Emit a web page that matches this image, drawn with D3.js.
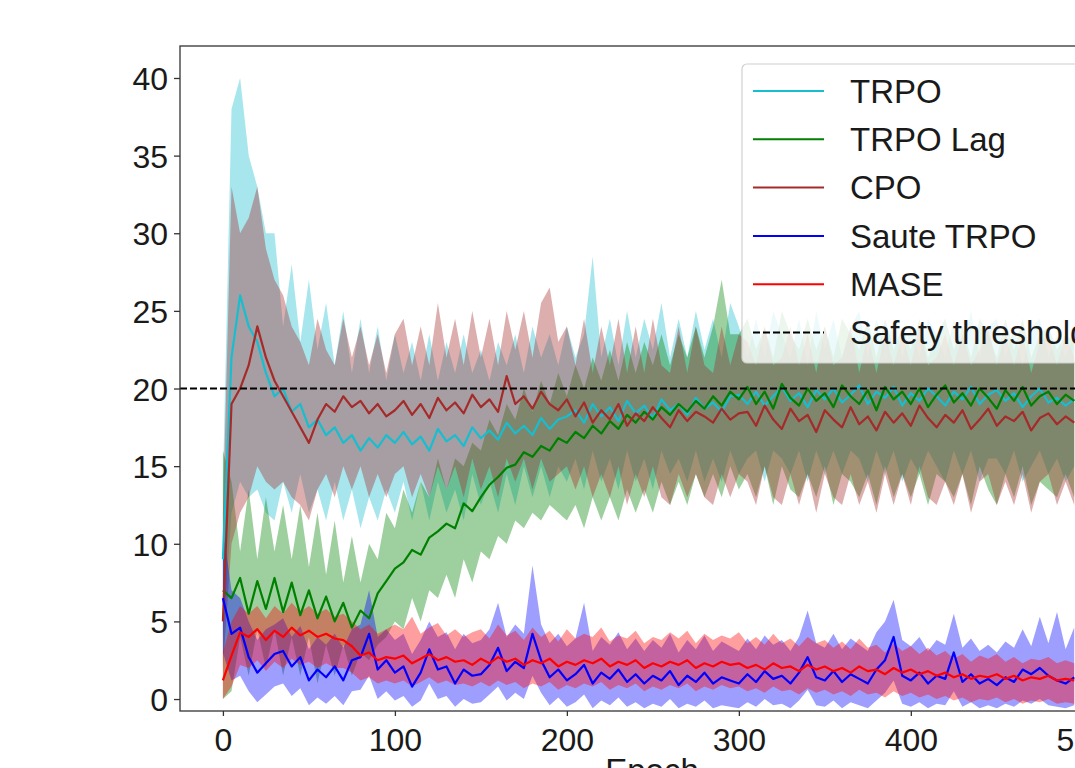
<!DOCTYPE html>
<html>
<head>
<meta charset="utf-8">
<script src="https://cdn.jsdelivr.net/npm/d3@7"></script>
<style>
  body { margin: 0; background: #fff; }
  text { font-family: "Liberation Sans", Arial, sans-serif; fill: #1a1a1a; }
</style>
</head>
<body>
<script>
"use strict"

// epochs sampled every 5
var epochs = d3.range(0, 500, 5);

var trpoMean = [9, 22, 26, 24, 23, 21, 19.5, 20, 18.5, 19,
  17.5, 18, 17, 17.5, 16.5, 17, 16, 16.8, 16.2, 17,
  16.5, 17.2, 16.4, 16.9, 16.0, 17.4, 16.6, 17.0, 16.3, 17.5,
  16.8, 17.3, 16.7, 17.8, 17.1, 17.6, 17.0, 18.1, 17.4, 18.0,
  18.2, 18.6, 17.8, 19.0, 18.2, 18.8, 17.9, 19.2, 18.4, 18.9,
  18.1, 19.3, 18.6, 19.0, 18.3, 19.4, 18.7, 19.1, 18.5, 19.5,
  19.6, 19.0, 19.8, 18.9, 19.5, 20.1, 19.2, 19.7, 18.8, 19.9,
  19.3, 20.0, 19.1, 19.6, 20.2, 19.0, 19.8, 19.4, 20.1, 18.9,
  19.7, 19.2, 20.0, 19.5, 18.9, 19.8, 19.3, 20.1, 19.0, 19.6,
  19.9, 19.2, 19.7, 18.8, 19.5, 20.0, 19.1, 19.4, 18.9, 19.3];
var trpoHi = [14, 38, 40, 35, 33, 30, 30, 24, 28, 23,
  27, 22.5, 25.5, 21.5, 25, 21, 24.5, 21, 24, 20.5,
  23.5, 21, 23, 20.5, 23.5, 20.5, 23, 21, 23.5, 21,
  22.5, 20.5, 23, 21.5, 23.5, 21, 24, 22, 23.5, 21.5,
  24, 22, 23.5, 28.5, 22, 24.5, 21.5, 25, 22, 24.5,
  22.5, 25.5, 22, 24.5, 22, 25, 22.5, 24.5, 22, 25.5,
  24, 22, 24.5, 22, 25, 23.5, 22, 24.5, 21.5, 25,
  22.5, 24.5, 22, 24, 25, 22, 24.5, 22.5, 24.5, 22,
  24, 22, 24.5, 23.5, 22, 24.5, 22.5, 25, 22, 24,
  24.5, 22, 24, 21.5, 24, 24.5, 22, 23.5, 22, 23.5];
var trpoLo = [4, 12, 14, 13, 13.5, 12, 11.5, 14, 12, 14.5,
  12, 13.5, 11.5, 14, 11.5, 13.5, 11, 13, 11.5, 13.5,
  12, 14, 11.5, 14, 11.5, 14, 12, 13.5, 11.5, 14.5,
  12.5, 14, 12, 14.5, 12.5, 15, 13, 15, 13, 15,
  14, 15.5, 13.5, 16, 14, 15.5, 13.5, 16, 14, 15.5,
  13.5, 16, 14.5, 15.5, 14, 16, 14, 15.5, 14, 16,
  14.5, 15.5, 16, 14, 16, 15.5, 14.5, 16, 14, 16,
  14.5, 16, 14.5, 16, 15.5, 14, 16, 14.5, 16, 14,
  15.5, 14.5, 16, 15, 14, 16, 14.5, 16, 14, 15.5,
  15.5, 14.5, 16, 14, 15, 16, 14.5, 15.5, 14, 15];

var lagMean = [7, 6.5, 7.8, 5.5, 7.6, 5.8, 7.8, 5.6, 7.5, 5.4,
  7.0, 5.2, 6.6, 5.0, 6.2, 4.6, 5.7, 5.2, 6.8, 7.6,
  8.4, 8.8, 9.6, 9.3, 10.4, 10.8, 11.3, 11.0, 12.6, 12.1,
  13.0, 13.8, 14.3, 14.9, 15.1, 15.9, 15.6, 16.3, 16.0, 16.8,
  16.5, 17.2, 16.8, 17.6, 17.1, 17.9, 17.4, 18.3, 17.8, 18.5,
  18.0, 18.8, 18.3, 19.0, 18.5, 19.2, 18.7, 19.5, 18.9, 19.8,
  19.3, 20.1, 19.0, 19.8, 18.7, 20.3, 19.4, 18.9, 20.0, 19.2,
  19.7, 18.8, 20.2, 19.5, 19.0, 19.9, 18.6, 20.1, 19.3, 19.8,
  19.0, 20.0, 18.8, 19.6, 20.2, 19.1, 19.7, 18.9, 20.0, 19.4,
  18.7, 19.9, 19.2, 20.1, 18.9, 19.5, 19.8, 19.0, 19.6, 19.2];
var lagHi = [16, 14, 9.5, 13.5, 9, 13, 9.5, 12.5, 9, 12.5,
  8.5, 12, 8, 11.5, 7.5, 10.5, 7.5, 10, 9, 12,
  11, 13.5, 12, 14, 13, 15.5, 13.5, 15.5, 15, 16.5,
  16, 18, 17, 19, 18, 20, 18.5, 20.5, 19, 21,
  19.5, 21.5, 20, 22, 20.5, 22.5, 20.5, 23, 21, 23,
  21.5, 23.5, 21.5, 23.5, 22, 24, 22, 24, 27, 23.5,
  23.5, 24.5, 22.5, 24, 22, 25, 23.5, 22.5, 24.5, 22.5,
  24, 22, 24.5, 23.5, 22.5, 24.5, 22, 24.5, 22.5, 24,
  22.5, 24.5, 22, 23.5, 24.5, 22.5, 24, 22, 24.5, 23.5,
  22, 24.5, 22.5, 24.5, 22, 23.5, 24, 22.5, 23.5, 23];
var lagLo = [0, 0.5, 4, 1.5, 4.5, 2, 4.5, 1.5, 4, 1.5,
  4, 1, 3.5, 1.5, 3.5, 1.5, 3, 2.5, 3.5, 4,
  5, 4.5, 6.5, 5, 7, 6.5, 8, 6.5, 9, 7.5,
  9.5, 9, 10.5, 10, 11.5, 11, 12, 11.5, 12.5, 12,
  11.5, 12.5, 11, 13, 11.5, 13, 11.5, 13.5, 12, 13.5,
  12, 14, 12.5, 14, 12.5, 14.5, 13, 14.5, 13, 15,
  13.5, 14.5, 13, 15, 12.5, 15, 13.5, 13, 14.5, 13,
  15, 12.5, 14.5, 14, 13, 14.5, 12.5, 15, 13, 14.5,
  13, 14.5, 12.5, 14.5, 14, 13, 14.5, 12.5, 15, 13.5,
  12.5, 14.5, 13, 15, 12.5, 14, 13.5, 13, 14.5, 13];

var cpoMean = [5, 19, 20, 21.5, 24, 22, 20.5, 19.5, 18.5, 17.5,
  16.5, 18, 19, 18.5, 19.5, 18.8, 19.2, 18.4, 19.0, 18.2,
  18.6, 19.2, 18.3, 19.0, 18.1, 19.4, 18.6, 19.1, 18.4, 19.6,
  18.8, 19.3, 18.5, 20.8, 19.0, 19.5, 18.7, 19.8, 19.0, 18.6,
  19.3, 18.2, 19.1, 17.8, 18.6, 18.0, 19.0, 17.6, 18.4, 17.9,
  18.8, 18.1, 17.5, 18.6, 17.9, 18.5, 18.2, 17.8, 18.7, 18.0,
  18.4, 18.5, 17.6, 18.9, 18.0, 17.4, 18.7, 17.9, 18.3, 17.2,
  18.6, 18.0, 17.5, 18.8, 17.7, 18.2, 17.3, 18.5, 17.8, 18.4,
  17.6, 18.9, 18.1, 17.5, 18.3, 17.8, 18.6, 17.4, 18.0, 18.7,
  17.6, 18.2, 17.9, 18.5, 17.3, 18.1, 18.4, 17.7, 18.2, 17.8];
var cpoHi = [12, 33, 30, 31, 33, 29, 27, 26, 24, 23,
  21.5, 24.5, 22.5, 21.5, 24.5, 22, 24, 21.5, 23.5, 21,
  23.5, 24.5, 21.5, 24, 21.5, 25.5, 22, 24.5, 21.5, 25,
  22, 24.5, 21.5, 25, 22.5, 25, 22, 25.5, 26.5, 23,
  24, 21.5, 24.5, 21, 24, 21.5, 24.5, 21, 24, 21,
  24.5, 21.5, 21, 24, 21, 24, 21.5, 21, 24, 21.5,
  23.5, 23, 21.5, 24, 21.5, 22, 24, 21.5, 23.5, 21,
  24, 21.5, 22, 24, 21, 23.5, 21, 23.5, 21.5, 23.5,
  21.5, 24, 21.5, 22, 23.5, 21.5, 23.5, 21.5, 22.5, 24,
  21.5, 23.5, 21.5, 23.5, 21, 23, 23.5, 21.5, 23.5, 22];
var cpoLo = [2, 10, 12, 13, 15, 14, 13.5, 14, 13, 12.5,
  11.5, 13.5, 14.5, 13, 15, 13.5, 15, 13, 14.5, 13,
  14.5, 15, 13, 14.5, 13, 15, 13.5, 15, 13, 15.5,
  13.5, 15, 13, 15.5, 14, 15.5, 13.5, 15.5, 14, 14.5,
  15, 13.5, 15, 13, 14.5, 13, 15, 12.5, 14.5, 13,
  15, 13, 12.5, 14.5, 13, 14.5, 13, 12.5, 14.5, 13,
  14.5, 14, 12.5, 15, 13, 12.5, 14.5, 12.5, 14.5, 12,
  14.5, 13, 12.5, 14.5, 12.5, 14, 12, 14.5, 12.5, 14.5,
  12.5, 15, 13, 12.5, 14, 12.5, 14.5, 12, 14, 14.5,
  12.5, 14, 12.5, 14.5, 12, 14, 14.5, 12.5, 14, 12.5];

var sauteMean = [6.5, 4.2, 4.6, 2.7, 1.7, 2.3, 2.9, 3.1, 2.1, 2.7,
  1.2, 1.9, 1.4, 2.1, 1.2, 2.5, 2.7, 4.2, 1.9, 2.5,
  1.7, 2.1, 0.8, 1.7, 3.2, 1.9, 2.1, 1.0, 1.9, 1.5,
  1.6, 2.2, 3.3, 1.8, 2.4, 2.0, 4.2, 2.5, 1.4, 1.9,
  1.2, 1.6, 2.2, 1.0, 1.7, 1.3, 1.9, 1.1, 1.6, 1.0,
  1.5, 1.2, 1.8, 0.9, 1.5, 1.1, 1.7, 1.0, 1.4, 1.2,
  1.0, 1.6, 1.1, 1.8, 1.3, 1.5, 1.0, 1.7, 2.7, 1.4,
  1.2, 1.8, 1.1, 1.6, 1.3, 1.0, 1.9, 2.5, 4.0, 1.5,
  1.2, 1.7, 1.0, 1.5, 1.3, 3.0, 1.1, 1.6, 1.0, 1.3,
  0.9, 1.4, 1.1, 1.9, 1.6, 2.0, 1.5, 1.2, 1.0, 1.4];
var sauteHi = [11, 7, 6.5, 5, 3.8, 4.5, 4.8, 5.2, 4, 4.7,
  3.2, 4, 3.5, 4.2, 3.3, 4.5, 4.8, 7, 4, 4.5,
  3.8, 4.2, 2.9, 3.8, 5, 4, 4.3, 3.2, 4.2, 3.6,
  3.8, 4.5, 6.2, 4.0, 4.8, 4.2, 8.6, 4.8, 3.6, 4.2,
  3.4, 3.9, 6.2, 3.1, 4.0, 3.5, 4.3, 3.2, 3.9, 3.1,
  3.8, 3.3, 4.2, 3.0, 3.8, 3.2, 4.1, 3.1, 3.7, 3.4,
  3.1, 3.9, 3.2, 4.1, 3.5, 3.8, 3.1, 4.0, 5.7, 3.6,
  3.3, 4.2, 3.2, 3.9, 3.5, 3.1, 4.3, 5.0, 6.4, 3.8,
  3.4, 4.0, 3.1, 3.8, 3.5, 5.5, 3.3, 3.9, 3.1, 3.5,
  3.0, 3.7, 3.3, 4.5, 3.4, 5.3, 3.6, 5.6, 3.2, 4.6];
var sauteLo = [3, 1.2, 1.5, 0.5, -0.2, 0.3, 0.8, 1.0, 0.2, 0.7,
  -0.4, 0.1, -0.3, 0.2, -0.4, 0.5, 0.6, 1.5, 0, 0.5,
  -0.1, 0.2, -0.5, -0.1, 1.0, 0, 0.2, -0.5, 0, -0.3,
  -0.2, 0.3, 0.8, -0.1, 0.4, 0.0, 1.5, 0.4, -0.4, 0.1,
  -0.5, -0.2, 0.3, -0.6, -0.1, -0.4, 0.1, -0.5, -0.2, -0.6,
  -0.3, -0.5, 0.0, -0.6, -0.3, -0.5, -0.1, -0.6, -0.4, -0.5,
  -0.6, -0.2, -0.5, 0.0, -0.4, -0.3, -0.6, -0.1, 0.6, -0.4,
  -0.5, -0.1, -0.6, -0.2, -0.4, -0.6, -0.1, 0.4, 1.2, -0.3,
  -0.5, -0.2, -0.6, -0.3, -0.4, 0.5, -0.5, -0.2, -0.6, -0.4,
  -0.6, -0.3, -0.5, -0.1, -0.3, 0.0, -0.4, -0.5, -0.6, -0.4];

var maseMean = [1.2, 2.8, 4.3, 4.0, 4.5, 3.8, 4.4, 4.0, 4.6, 4.1,
  4.4, 4.0, 4.2, 3.9, 3.8, 3.4, 2.8, 3.0, 2.5, 2.7,
  2.6, 2.8, 2.3, 2.6, 2.9, 2.5, 2.7, 2.4, 2.5, 2.2,
  2.6, 2.3, 2.7, 2.4, 2.6, 2.2, 2.5, 2.3, 2.6, 2.1,
  2.4, 2.2, 2.5, 2.3, 2.6, 2.1, 2.4, 2.2, 2.5, 2.0,
  2.3, 2.1, 2.4, 2.2, 2.5, 2.0, 2.3, 2.1, 2.4, 2.2,
  2.3, 2.0, 2.2, 1.9, 2.3, 2.0, 2.1, 1.8, 2.2, 1.9,
  2.1, 1.8, 2.0, 1.7, 2.1, 1.8, 1.9, 1.6, 2.0, 1.7,
  1.9, 1.6, 1.8, 1.5, 1.7, 1.4, 1.6, 1.3, 1.5, 1.4,
  1.6, 1.3, 1.5, 1.2, 1.4, 1.3, 1.5, 1.2, 1.3, 1.2];
var maseHi = [3, 5, 6, 5.5, 6, 5.2, 6, 5.5, 6.2, 5.6,
  6, 5.5, 5.8, 5.3, 5.5, 5, 4.5, 4.8, 4.2, 4.5,
  4.8, 4.5, 5.3, 4.2, 4.6, 4.9, 4.1, 4.5, 4.0, 4.3,
  4.5, 3.9, 4.8, 4.1, 4.4, 3.8, 4.6, 4.0, 4.4, 3.7,
  4.5, 3.9, 4.2, 4.0, 4.6, 3.7, 4.1, 3.9, 4.4, 3.6,
  4.0, 3.8, 4.3, 3.9, 4.4, 3.6, 4.2, 3.8, 4.1, 3.9,
  4.3, 3.6, 4.0, 3.5, 4.2, 3.6, 3.9, 3.4, 4.0, 3.6,
  3.8, 3.3, 3.7, 3.2, 3.9, 3.3, 3.5, 3.0, 3.6, 3.1,
  3.4, 2.9, 3.3, 2.8, 3.1, 2.6, 2.9, 2.4, 2.8, 2.6,
  2.9, 2.4, 2.7, 2.3, 2.6, 2.5, 2.7, 2.3, 2.5, 2.3];
var maseLo = [0, 0.8, 2.2, 2.0, 2.5, 1.8, 2.4, 2.0, 2.6, 2.2,
  2.4, 2.0, 2.3, 2.0, 2.0, 1.7, 1.2, 1.4, 1.0, 1.2,
  1.0, 1.2, 0.8, 1.1, 1.4, 1.0, 1.2, 0.9, 1.0, 0.8,
  1.1, 0.8, 1.2, 0.9, 1.1, 0.7, 1.0, 0.8, 1.1, 0.6,
  0.9, 0.7, 1.0, 0.8, 1.1, 0.6, 0.9, 0.7, 1.0, 0.5,
  0.8, 0.6, 0.9, 0.7, 1.0, 0.5, 0.8, 0.6, 0.9, 0.7,
  0.8, 0.5, 0.7, 0.4, 0.8, 0.5, 0.6, 0.3, 0.7, 0.4,
  0.6, 0.3, 0.5, 0.2, 0.6, 0.3, 0.4, 0.1, 0.5, 0.2,
  0.4, 0.1, 0.3, 0.0, 0.2, -0.1, 0.1, -0.2, 0.0, -0.1,
  0.1, -0.2, 0.0, -0.3, -0.1, -0.2, 0.0, -0.3, -0.2, -0.3];

var threshold = 20;
var yTicks = [0, 5, 10, 15, 20, 25, 30, 35, 40];
var xTicks = [0, 100, 200, 300, 400, 500];

var series = [
  { name: "TRPO", color: "#17becf", mean: trpoMean, lo: trpoLo, hi: trpoHi },
  { name: "TRPO Lag", color: "#008000", mean: lagMean, lo: lagLo, hi: lagHi },
  { name: "CPO", color: "#a52a2a", mean: cpoMean, lo: cpoLo, hi: cpoHi },
  { name: "Saute TRPO", color: "#0000ff", mean: sauteMean, lo: sauteLo, hi: sauteHi },
  { name: "MASE", color: "#ff0000", mean: maseMean, lo: maseLo, hi: maseHi }
];

var width = 1075, height = 768;
var plotLeft = 180, plotRight = 1124, plotTop = 46, plotBottom = 711;

var svg = d3.select("body").append("svg")
            .attr("width", width)
            .attr("height", height);

var x = d3.scaleLinear().domain([-24.95, 523.95]).range([plotLeft, plotRight]);
var y = d3.scaleLinear().domain([-0.77, 42.06]).range([plotBottom, plotTop]);

svg.append("clipPath").attr("id", "plotclip")
   .append("rect")
   .attr("x", plotLeft).attr("y", plotTop)
   .attr("width", plotRight - plotLeft).attr("height", plotBottom - plotTop);

var plot = svg.append("g").attr("clip-path", "url(#plotclip)");

// all shaded bands first, lines on top (like matplotlib zorder)
series.forEach(function (s) {
    var area = d3.area()
        .x(function (d, i) { return x(epochs[i]); })
        .y0(function (d, i) { return y(s.lo[i]); })
        .y1(function (d, i) { return y(s.hi[i]); });

    plot.append("path").datum(s.mean)
        .attr("d", area)
        .attr("fill", s.color)
        .attr("fill-opacity", 0.38)
        .attr("stroke", "none");
});

series.forEach(function (s) {
    var line = d3.line()
        .x(function (d, i) { return x(epochs[i]); })
        .y(function (d) { return y(d); });

    plot.append("path").datum(s.mean)
        .attr("d", line)
        .attr("fill", "none")
        .attr("stroke", s.color)
        .attr("stroke-width", 2.2)
        .attr("stroke-linejoin", "round");
});

// safety threshold
plot.append("line")
    .attr("x1", plotLeft).attr("x2", plotRight)
    .attr("y1", y(threshold)).attr("y2", y(threshold))
    .attr("stroke", "#000")
    .attr("stroke-width", 2)
    .attr("stroke-dasharray", "7,3");

// axes
var yAxis = svg.append("g")
    .attr("transform", "translate(" + plotLeft + ",0)")
    .call(d3.axisLeft(y).tickValues(yTicks).tickSize(6).tickSizeOuter(0).tickPadding(6));
var xAxis = svg.append("g")
    .attr("transform", "translate(0," + plotBottom + ")")
    .call(d3.axisBottom(x).tickValues(xTicks).tickSize(5).tickSizeOuter(0).tickPadding(5));

[yAxis, xAxis].forEach(function (a) {
    a.select(".domain").remove();
    a.selectAll(".tick line").attr("stroke", "#333").attr("stroke-width", 1.3);
    a.selectAll(".tick text")
     .attr("font-family", "Liberation Sans, Arial, sans-serif")
     .attr("font-size", 32)
     .attr("fill", "#1a1a1a");
});
yAxis.selectAll(".tick text").attr("dy", "0.36em");
xAxis.selectAll(".tick text").attr("dy", "0.95em");

// spines
svg.append("rect")
   .attr("x", plotLeft).attr("y", plotTop)
   .attr("width", plotRight - plotLeft).attr("height", plotBottom - plotTop)
   .attr("fill", "none")
   .attr("stroke", "#333")
   .attr("stroke-width", 1.3);

svg.append("text")
   .attr("x", (plotLeft + plotRight) / 2)
   .attr("y", 782)
   .attr("font-size", 33)
   .attr("text-anchor", "middle")
   .text("Epoch");

// legend
var legend = svg.append("g");
legend.append("rect")
      .attr("x", 742).attr("y", 64)
      .attr("width", 420).attr("height", 299)
      .attr("rx", 5)
      .attr("fill", "#fff")
      .attr("fill-opacity", 0.8)
      .attr("stroke", "#d0d0d0")
      .attr("stroke-width", 1.2);

var entries = series.map(function (s) { return { name: s.name, color: s.color, dash: null }; });
entries.push({ name: "Safety threshold", color: "#000", dash: "7,3" });

entries.forEach(function (e, i) {
    var ly = 91 + i * 48.3;
    legend.append("line")
          .attr("x1", 753).attr("x2", 824)
          .attr("y1", ly).attr("y2", ly)
          .attr("stroke", e.color)
          .attr("stroke-width", 2)
          .attr("stroke-dasharray", e.dash);
    legend.append("text")
          .attr("x", 850).attr("y", ly)
          .attr("dy", "0.36em")
          .attr("font-size", 33)
          .text(e.name);
});
</script>
</body>
</html>
